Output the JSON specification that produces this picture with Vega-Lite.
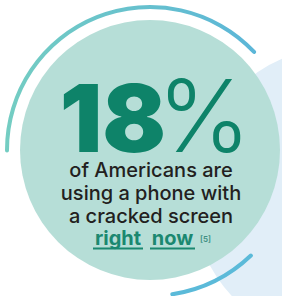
{
  "$schema": "https://vega.github.io/schema/vega-lite/v6.json",
  "width": 282,
  "height": 296,
  "autosize": "none",
  "padding": 0,
  "background": "white",
  "config": {"view": {"stroke": null}},
  "datasets": {
    "blob": [{"cx": 340, "cy": 195}],
    "disc": [{"cx": 150, "cy": 150}],
    "rings": [
      {"part": "top", "cx": 150, "cy": 150, "a0": -91, "a1": 47.5},
      {"part": "bottom", "cx": 150, "cy": 150, "a0": 135.5, "a1": 172}
    ],
    "big": [{"x": 113, "y": 152, "t": "18"}],
    "pct": [{"x": 204, "y": 152, "t": "%"}],
    "lines": [
      {"x": 151, "y": 177, "t": "of Americans are"},
      {"x": 151, "y": 200, "t": "using a phone with"},
      {"x": 151, "y": 222.5, "t": "a cracked screen"}
    ],
    "links": [
      {"x": 118, "y": 245, "t": "right", "x0": 93, "x1": 143},
      {"x": 172.5, "y": 245, "t": "now", "x0": 150, "x1": 195}
    ],
    "note": [{"x": 200, "y": 242, "t": "[5]"}]
  },
  "encoding": {
    "x": {"type": "quantitative", "scale": {"domain": [0, 282], "range": [0, 282], "nice": false, "zero": false}, "axis": null},
    "y": {"type": "quantitative", "scale": {"domain": [0, 296], "range": [0, 296], "nice": false, "zero": false}, "axis": null}
  },
  "layer": [
    {
      "data": {"name": "blob"},
      "mark": {"type": "arc", "radius": 148, "theta": 0, "theta2": 6.2832, "fill": "#e1eef8"},
      "encoding": {"x": {"field": "cx"}, "y": {"field": "cy"}}
    },
    {
      "data": {"name": "disc"},
      "mark": {"type": "arc", "radius": 130, "theta": 0, "theta2": 6.2832, "fill": "#b6ded7"},
      "encoding": {"x": {"field": "cx"}, "y": {"field": "cy"}}
    },
    {
      "data": {"name": "rings"},
      "transform": [{"filter": "datum.part === 'top'"}],
      "mark": {"type": "arc", "radius": 145, "radius2": 141, "cornerRadius": 2,
        "fill": {"gradient": "linear", "x1": 0, "y1": 0, "x2": 1, "y2": 0,
          "stops": [{"offset": 0, "color": "#74cdc2"}, {"offset": 1, "color": "#5bb6d8"}]}},
      "encoding": {
        "x": {"field": "cx"}, "y": {"field": "cy"},
        "theta": {"field": "a0", "type": "quantitative", "scale": {"type": "linear", "domain": [0, 360], "range": [0, 6.283185307179586], "zero": false, "nice": false}},
        "theta2": {"field": "a1"}
      }
    },
    {
      "data": {"name": "rings"},
      "transform": [{"filter": "datum.part === 'bottom'"}],
      "mark": {"type": "arc", "radius": 148, "radius2": 144, "cornerRadius": 2, "fill": "#5bbad9"},
      "encoding": {
        "x": {"field": "cx"}, "y": {"field": "cy"},
        "theta": {"field": "a0", "type": "quantitative", "scale": {"type": "linear", "domain": [0, 360], "range": [0, 6.283185307179586], "zero": false, "nice": false}},
        "theta2": {"field": "a1"}
      }
    },
    {
      "data": {"name": "big"},
      "mark": {"type": "text", "font": "Inter", "fontWeight": 900, "fontSize": 94, "align": "center", "baseline": "alphabetic", "color": "#0e8369"},
      "encoding": {"x": {"field": "x"}, "y": {"field": "y"}, "text": {"field": "t"}}
    },
    {
      "data": {"name": "pct"},
      "mark": {"type": "text", "font": "Inter", "fontWeight": 300, "fontSize": 100, "align": "center", "baseline": "alphabetic", "color": "#0e8369"},
      "encoding": {"x": {"field": "x"}, "y": {"field": "y"}, "text": {"field": "t"}}
    },
    {
      "data": {"name": "lines"},
      "mark": {"type": "text", "font": "Inter", "fontWeight": 500, "fontSize": 20, "align": "center", "baseline": "alphabetic", "color": "#231f20"},
      "encoding": {"x": {"field": "x"}, "y": {"field": "y"}, "text": {"field": "t"}}
    },
    {
      "data": {"name": "links"},
      "mark": {"type": "text", "font": "Inter", "fontWeight": 700, "fontSize": 20, "align": "center", "baseline": "alphabetic", "color": "#1b8870"},
      "encoding": {"x": {"field": "x"}, "y": {"field": "y"}, "text": {"field": "t"}}
    },
    {
      "data": {"name": "links"},
      "mark": {"type": "rule", "strokeWidth": 1.8, "color": "#1b8870", "yOffset": 3.5},
      "encoding": {"x": {"field": "x0"}, "x2": {"field": "x1"}, "y": {"field": "y"}}
    },
    {
      "data": {"name": "note"},
      "mark": {"type": "text", "font": "Inter", "fontWeight": 600, "fontSize": 8, "align": "left", "baseline": "alphabetic", "color": "#3d8f82"},
      "encoding": {"x": {"field": "x"}, "y": {"field": "y"}, "text": {"field": "t"}}
    }
  ]
}
